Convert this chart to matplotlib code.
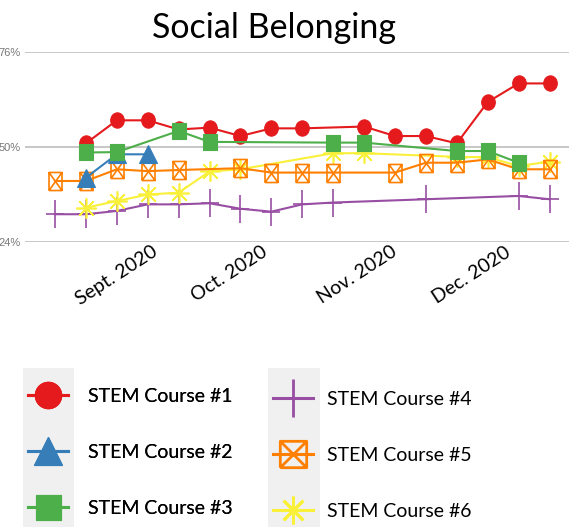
import matplotlib
matplotlib.use("Agg")
import matplotlib.pyplot as plt
from matplotlib.lines import Line2D
from matplotlib.patches import Rectangle
from matplotlib.path import Path
from matplotlib.transforms import Affine2D


# weekly survey index (0 = first week) and percent agreeing, per course
c1_wk = [1, 2, 3, 4, 5, 6, 7, 8, 10, 11, 12, 13, 14, 15, 16]
c1_pct = [51.0, 57.3, 57.3, 54.8, 55.3, 53.0, 55.1, 55.1, 55.6, 53.0, 53.0, 51.0, 62.3, 67.4, 67.4]

c2_wk = [1, 2, 3]
c2_pct = [41.6, 48.0, 48.0]

c3_wk = [1, 2, 4, 5, 9, 10, 13, 14, 15]
c3_pct = [48.5, 48.6, 54.4, 51.4, 51.2, 51.2, 48.9, 48.9, 45.7]

c4_wk = [0, 1, 2, 3, 4, 5, 6, 7, 8, 9, 12, 15, 16]
c4_pct = [31.6, 31.6, 32.5, 34.3, 34.3, 34.6, 33.1, 32.3, 34.3, 34.8, 35.7, 36.6, 35.7]

c5_wk = [0, 1, 2, 3, 4, 6, 7, 8, 9, 11, 12, 13, 14, 15, 16]
c5_pct = [40.7, 40.7, 43.9, 43.4, 43.7, 44.2, 43.0, 43.0, 43.0, 43.0, 45.7, 45.7, 46.6, 43.9, 43.9]

c6_wk = [1, 2, 3, 4, 5, 6, 9, 10, 13, 14, 15, 16]
c6_pct = [33.4, 35.2, 37.0, 37.5, 43.3, 43.9, 48.3, 48.3, 47.3, 47.2, 44.8, 46.0]

course_names = [
    "STEM Course #1",
    "STEM Course #2",
    "STEM Course #3",
    "STEM Course #4",
    "STEM Course #5",
    "STEM Course #6",
]

month_labels = ["Sept. 2020", "Oct. 2020", "Nov. 2020", "Dec. 2020"]
month_ticks = [3.27, 6.8, 11.0, 14.7]

y_ticks = [24, 50, 76]

W, H = 569, 529


def _rect(hw, hh):
    return Path([(-hw, -hh), (hw, -hh), (hw, hh), (-hw, hh), (-hw, -hh)],
                [Path.MOVETO, Path.LINETO, Path.LINETO, Path.LINETO, Path.CLOSEPOLY])


def _box_x(hw, hh):
    verts = [(-hw, -hh), (hw, -hh), (hw, hh), (-hw, hh), (-hw, -hh),
             (-hw, -hh), (hw, hh), (-hw, hh), (hw, -hh)]
    codes = [Path.MOVETO, Path.LINETO, Path.LINETO, Path.LINETO, Path.LINETO,
             Path.MOVETO, Path.LINETO, Path.MOVETO, Path.LINETO]
    return Path(verts, codes)


def _plus(hw, hh):
    return Path([(0, -hh), (0, hh), (-hw, 0), (hw, 0)],
                [Path.MOVETO, Path.LINETO, Path.MOVETO, Path.LINETO])


ellipse = Path.unit_circle().transformed(Affine2D().scale(0.89, 1.0))
star8 = (8, 2, 0)

# style per course: color, plot marker, plot size, legend marker, legend size, filled
styles = [
    ("#e41a1c", ellipse, 11, "o", 19, True),
    ("#377eb8", "^", 12.5, "^", 20, True),
    ("#4daf4a", _rect(0.8, 1.0), 12, "s", 18, True),
    ("#984ea3", _plus(0.65, 1.0), 19.5, "+", 27, False),
    ("#ff7f00", _box_x(0.72, 1.0), 13, _box_x(1, 1), 19, False),
    ("#f9f03a", star8, 14.5, star8, 20, False),
]

# bottom -> top drawing order seen in the picture
draw_order = [3, 5, 4, 0, 1, 2]


def px_x(x):
    return x / W


def px_y(y):
    return 1 - y / H


def main():
    plt.rcParams["font.family"] = ["Lato", "DejaVu Sans"]

    fig = plt.figure(figsize=(W / 100, H / 100), dpi=100)
    ax = fig.add_axes([px_x(25), px_y(242), 1 - px_x(25), (242 - 52) / H])

    series = [
        (c1_wk, c1_pct), (c2_wk, c2_pct), (c3_wk, c3_pct),
        (c4_wk, c4_pct), (c5_wk, c5_pct), (c6_wk, c6_pct),
    ]

    for z, i in enumerate(draw_order):
        wk, pct = series[i]
        color, mk, ms, _, _, filled = styles[i]
        ax.plot(
            wk, pct,
            color=color, linewidth=1.5,
            marker=mk, markersize=ms,
            markerfacecolor=color if filled else "none",
            markeredgecolor=color,
            markeredgewidth=0.8 if filled else 1.2,
            zorder=3 + z, clip_on=False,
        )

    ax.set_xlim(-0.97, 16.63)
    ax.set_ylim(24, 76)
    ax.set_yticks(y_ticks)
    ax.set_yticklabels([f"{v}%" for v in y_ticks], fontsize=8,
                       color="#777777", family="Liberation Sans")
    ax.set_xticks(month_ticks)
    ax.set_xticklabels(month_labels, fontsize=14, rotation=33,
                       ha="right", va="center", rotation_mode="anchor")
    ax.tick_params(axis="both", length=0)
    ax.tick_params(axis="x", pad=6)
    ax.tick_params(axis="y", pad=3)
    ax.grid(True, axis="y", color="#bdbdbd", linewidth=1.2)
    ax.set_axisbelow(True)
    for sp in ax.spines.values():
        sp.set_visible(False)

    fig.text(px_x(274.5), px_y(38), "Social Belonging", fontsize=24.5,
             ha="center", va="baseline")

    # gray strips behind the legend symbols
    for x0, x1 in [(23, 74), (268, 320)]:
        fig.patches.append(Rectangle((px_x(x0), px_y(527)), (x1 - x0) / W, (527 - 368) / H,
                                     transform=fig.transFigure, facecolor="#f0f0f0",
                                     edgecolor="none", zorder=0))

    handles = []
    for i in range(6):
        color, _, _, lmk, lms, filled = styles[i]
        handles.append(Line2D([], [], color=color, linewidth=2.2, marker=lmk,
                              markersize=lms,
                              markerfacecolor=color if filled else "none",
                              markeredgecolor=color,
                              markeredgewidth=0.8 if filled else 2.0))

    leg_kw = dict(frameon=False, fontsize=14, handlelength=2.06,
                  labelspacing=2.0, borderpad=0, borderaxespad=0, loc="upper left")
    leg1 = fig.legend(handles[:3], course_names[:3],
                      bbox_to_anchor=(px_x(28), px_y(388)),
                      handletextpad=1.03, **leg_kw)
    fig.add_artist(leg1)
    fig.legend(handles[3:], course_names[3:],
               bbox_to_anchor=(px_x(273), px_y(391)),
               handletextpad=0.7, **leg_kw)

    fig.savefig("out.png", dpi=100)


if __name__ == "__main__":
    main()
